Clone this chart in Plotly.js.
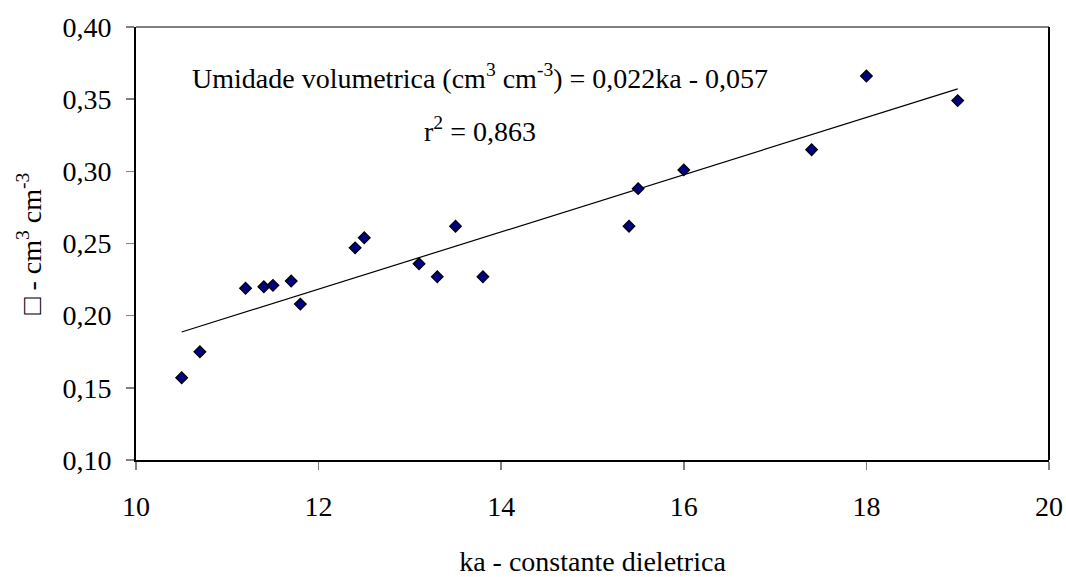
<!DOCTYPE html>
<html>
<head>
<meta charset="utf-8">
<script src="https://cdn.plot.ly/plotly-3.0.1.min.js"></script>
<style>
  html, body { margin: 0; padding: 0; background: #fff; }
  #chart { width: 1066px; height: 577px; }
</style>
</head>
<body>
<div id="chart"></div>
<script>
// Dielectric constant (ka) readings and measured volumetric moisture
const ka = [10.5, 10.7, 11.2, 11.4, 11.5, 11.7, 11.8, 12.4, 12.5, 13.1, 13.3, 13.5, 13.8, 15.4, 15.5, 16.0, 17.4, 18.0, 19.0];
const umidade = [0.157, 0.175, 0.219, 0.220, 0.221, 0.224, 0.208, 0.247, 0.254, 0.236, 0.227, 0.262, 0.227, 0.262, 0.288, 0.301, 0.315, 0.366, 0.349];

const xTicks = [10, 12, 14, 16, 18, 20];
const yTicks = [0.10, 0.15, 0.20, 0.25, 0.30, 0.35, 0.40];

const equationText = 'Umidade volumetrica (cm<sup>3</sup> cm<sup>-3</sup>) = 0,022ka - 0,057';
const r2Text = 'r<sup>2</sup> = 0,863';

// Least-squares linear fit over the measured points
function linearFit(xs, ys) {
  const n = xs.length;
  const mx = xs.reduce((a, b) => a + b, 0) / n;
  const my = ys.reduce((a, b) => a + b, 0) / n;
  let sxy = 0, sxx = 0;
  for (let i = 0; i < n; i++) {
    sxy += (xs[i] - mx) * (ys[i] - my);
    sxx += (xs[i] - mx) * (xs[i] - mx);
  }
  const slope = sxy / sxx;
  return { slope, intercept: my - slope * mx };
}
const fit = linearFit(ka, umidade);
const xMin = Math.min(...ka), xMax = Math.max(...ka);
const fitX = [xMin, xMax];
const fitY = fitX.map(v => fit.intercept + fit.slope * v);

const txt = { family: 'Liberation Serif', size: 28, color: '#000000' };

const traces = [
  {
    x: fitX, y: fitY, type: 'scatter', mode: 'lines',
    line: { color: '#000000', width: 1.2 }, hoverinfo: 'skip', showlegend: false
  },
  {
    x: ka, y: umidade, type: 'scatter', mode: 'markers',
    marker: { symbol: 'diamond', size: 9, color: '#000080', line: { color: '#000000', width: 1.2 } },
    showlegend: false
  }
];

const layout = {
  width: 1066, height: 577,
  margin: { l: 136, r: 17, t: 27, b: 117 },
  paper_bgcolor: '#ffffff', plot_bgcolor: '#ffffff',
  separators: ',.',
  font: txt,
  xaxis: {
    range: [10, 20], tickvals: xTicks, tickformat: 'd',
    showgrid: false, zeroline: false,
    showline: true, linecolor: '#000000', linewidth: 2,
    ticks: 'outside', ticklen: 8, tickcolor: '#808080', tickwidth: 1.5,
    ticklabelstandoff: 12,
    tickfont: txt,
    title: { text: 'ka - constante dieletrica', font: txt, standoff: 34 }
  },
  yaxis: {
    range: [0.10, 0.40], tickvals: yTicks, tickformat: '.2f',
    showgrid: false, zeroline: false,
    showline: true, linecolor: '#000000', linewidth: 2,
    ticks: 'outside', ticklen: 8, tickcolor: '#808080', tickwidth: 1.5,
    ticklabelstandoff: 9,
    tickfont: txt,
    title: { text: '\u25A1 - cm<sup>3</sup> cm<sup>-3</sup>', font: txt, standoff: 13 }
  },
  shapes: [
    { type: 'line', xref: 'paper', yref: 'paper', x0: 0, x1: 1, y0: 1, y1: 1, line: { color: '#808080', width: 2 } },
    { type: 'line', xref: 'paper', yref: 'paper', x0: 1, x1: 1, y0: 0, y1: 1, line: { color: '#000000', width: 2 } }
  ],
  annotations: [
    { xref: 'x', yref: 'y', x: 13.77, y: 0.366, text: equationText, showarrow: false,
      font: txt, xanchor: 'center', yanchor: 'middle' },
    { xref: 'x', yref: 'y', x: 13.77, y: 0.329, text: r2Text, showarrow: false,
      font: txt, xanchor: 'center', yanchor: 'middle' }
  ]
};

Plotly.newPlot('chart', traces, layout, { staticPlot: true, displayModeBar: false });
</script>
</body>
</html>
